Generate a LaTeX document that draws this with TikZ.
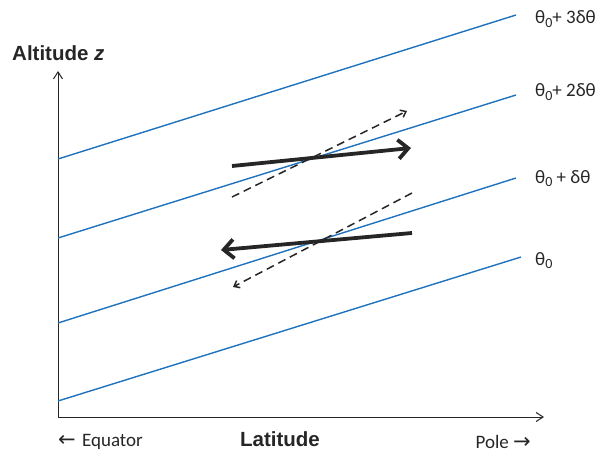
\documentclass[tikz,border=0pt]{standalone}
\usepackage{fontspec}
\setmainfont{Carlito}
\newfontfamily\arialfont{Liberation Sans}
\newfontfamily\arrowfont{DejaVu Sans}
\usetikzlibrary{arrows.meta}
\newcommand{\lowsub}[1]{\raisebox{-0.35ex}{\fontsize{14}{14}\selectfont #1}}
\definecolor{isoblue}{HTML}{1F72BD}
\definecolor{arrgray}{HTML}{262626}
\tikzset{
  isoline/.style={draw=isoblue, line width=1.4pt},
  axisline/.style={draw=arrgray, line width=1pt, -{Straight Barb[length=7pt,width=9pt]}},
  windarrow/.style={draw=arrgray, line width=3.8pt, -{Straight Barb[length=10pt,width=19pt]}},
  flowarrow/.style={draw=arrgray, line width=1.5pt, dash pattern=on 8pt off 5pt, -{Straight Barb[length=5pt,width=8pt]}},
  thetalabel/.style={anchor=base west, font=\fontsize{19}{20}\selectfont, text=arrgray, inner sep=0pt},
  axislabel/.style={font=\arialfont\bfseries\fontsize{20.5}{22}\selectfont, text=arrgray, inner sep=0pt},
  endlabel/.style={font=\fontsize{19}{20}\selectfont, text=arrgray, inner sep=0pt}
}
\newcommand{\bigarrow}[1]{{\arrowfont\fontsize{21}{22}\selectfont #1}}
\begin{document}
\begin{tikzpicture}[x=1pt,y=-1pt]
\useasboundingbox (0,0) rectangle (603,452);
% axes
\coordinate (O) at (58,417);
\coordinate (ztip) at (58,71);
\coordinate (xtip) at (544,417);
\draw[axisline] (O) -- (ztip);
\draw[axisline] (O) -- (xtip);
% isolines
\coordinate (a0) at (58,401); \coordinate (b0) at (521,257);
\coordinate (a1) at (58,323); \coordinate (b1) at (516,178);
\coordinate (a2) at (58,238); \coordinate (b2) at (516,95);
\coordinate (a3) at (58,159); \coordinate (b3) at (516,15);
\draw[isoline] (a0) -- (b0);
\draw[isoline] (a1) -- (b1);
\draw[isoline] (a2) -- (b2);
\draw[isoline] (a3) -- (b3);
% labels
\node[thetalabel] (t3) at (535,24) {θ\lowsub{0}+ 3δθ};
\node[thetalabel] (t2) at (535,97) {θ\lowsub{0}+ 2δθ};
\node[thetalabel] (t1) at (535,183) {θ\lowsub{0} + δθ};
\node[thetalabel] (t0) at (535,265) {θ\lowsub{0}};
% wind arrows
\coordinate (u1) at (232,166); \coordinate (u2) at (411,148);
\coordinate (l1) at (412,233); \coordinate (l2) at (221,250);
\draw[windarrow] (u1) -- (u2);
\draw[windarrow] (l1) -- (l2);
% dashed arrows
\coordinate (d1) at (232,197); \coordinate (d2) at (407,111);
\coordinate (e1) at (412,193); \coordinate (e2) at (233,287);
\draw[flowarrow] (d1) -- (d2);
\draw[flowarrow] (e1) -- (e2);
% axis labels
\node[axislabel, anchor=base west] (zlab) at (12,61) {Altitude \textit{z}};
\node[axislabel, anchor=base] (xlab) at (280,446) {Latitude};
\node[endlabel, anchor=base west] (eq) at (58,446) {\bigarrow{←}\hspace{2pt} Equator};
\node[endlabel, anchor=base east] (pole) at (531,448) {Pole \bigarrow{→}};
\end{tikzpicture}
\end{document}
